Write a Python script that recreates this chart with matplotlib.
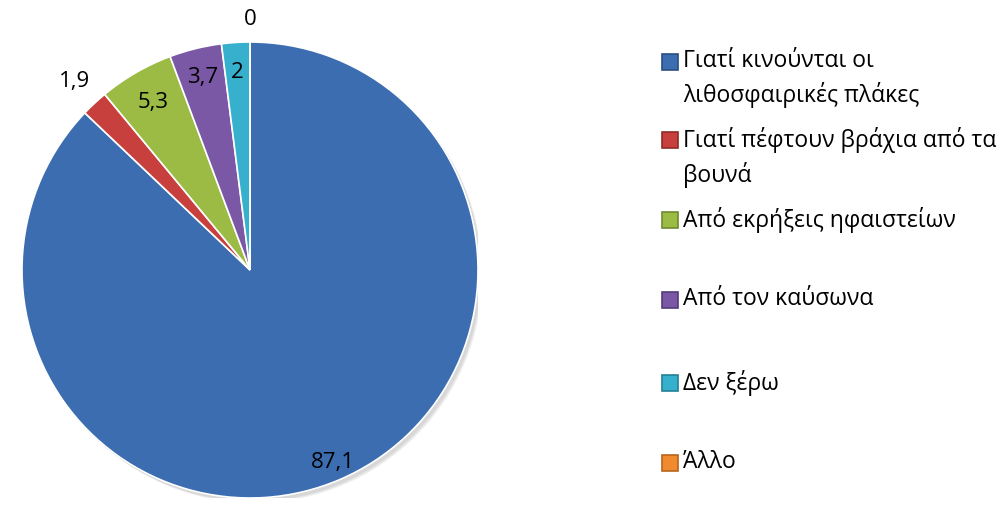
import matplotlib
matplotlib.use('Agg')
import matplotlib.pyplot as plt
from matplotlib.patches import Rectangle
import numpy as np

labels = ['Γιατί κινούνται οι\nλιθοσφαιρικές πλάκες',
          'Γιατί πέφτουν βράχια από τα\nβουνά',
          'Από εκρήξεις ηφαιστείων',
          'Από τον καύσωνα',
          'Δεν ξέρω',
          'Άλλο']
values = [87.1, 1.9, 5.3, 3.7, 2.0, 0.0]
value_text = ['87,1', '1,9', '5,3', '3,7', '2', '0']
colors = ['#3b6db0', '#c8403d', '#9bbb45', '#7b58a6', '#36b0cc', '#f08a2e']
edge_colors = ['#2a4f80', '#8f2b29', '#6f8a30', '#553c78', '#257f94', '#b8651f']
# where each value label sits, as a fraction of the radius
label_dist = [0.92, 1.13, 0.85, 0.87, 0.87, 1.10]

W, H = 1007, 523
fig = plt.figure(figsize=(W / 100, H / 100), dpi=100)

# pie axes: centre (250, 270) px, radius 228 px
cx, cy, r = 250, 270, 228
ax = fig.add_axes([(cx - r) / W, (H - cy - r) / H, 2 * r / W, 2 * r / H])

# soft drop shadow
for k, a in enumerate([0.05, 0.05, 0.06]):
    ax.add_patch(plt.Circle((0.012 + k * 0.004, -0.014 - k * 0.004), 1.0,
                            color='black', alpha=a, lw=0, zorder=0))

wedges, _ = ax.pie(values, colors=colors, startangle=90, counterclock=False,
                   radius=1.0, wedgeprops=dict(edgecolor='white', linewidth=1.2))
for w in wedges:
    w.set_zorder(2)
ax.set_xlim(-1, 1)
ax.set_ylim(-1, 1)
ax.axis('off')

lab_font = 'Open Sans'
for w, txt, d in zip(wedges, value_text, label_dist):
    ang = np.deg2rad((w.theta1 + w.theta2) / 2)
    ax.text(d * np.cos(ang), d * np.sin(ang), txt, ha='center', va='center',
            fontsize=16, family=lab_font, color='black', zorder=5, clip_on=False)

# legend drawn by hand so the swatch lines up with the first text line
leg_x, sw = 662, 16
row_y = [62, 140, 220, 300, 383, 463]
for lab, c, ec, y in zip(labels, colors, edge_colors, row_y):
    fig.patches.append(Rectangle(((leg_x) / W, (H - y - sw / 2) / H), sw / W, sw / H,
                                 transform=fig.transFigure, facecolor=c,
                                 edgecolor=ec, linewidth=1.2))
    fig.text((leg_x + sw + 5) / W, (H - y + 13) / H, lab, ha='left', va='top',
             fontsize=16.5, family=lab_font, linespacing=1.45, color='black')

fig.savefig('out.png', dpi=100)
